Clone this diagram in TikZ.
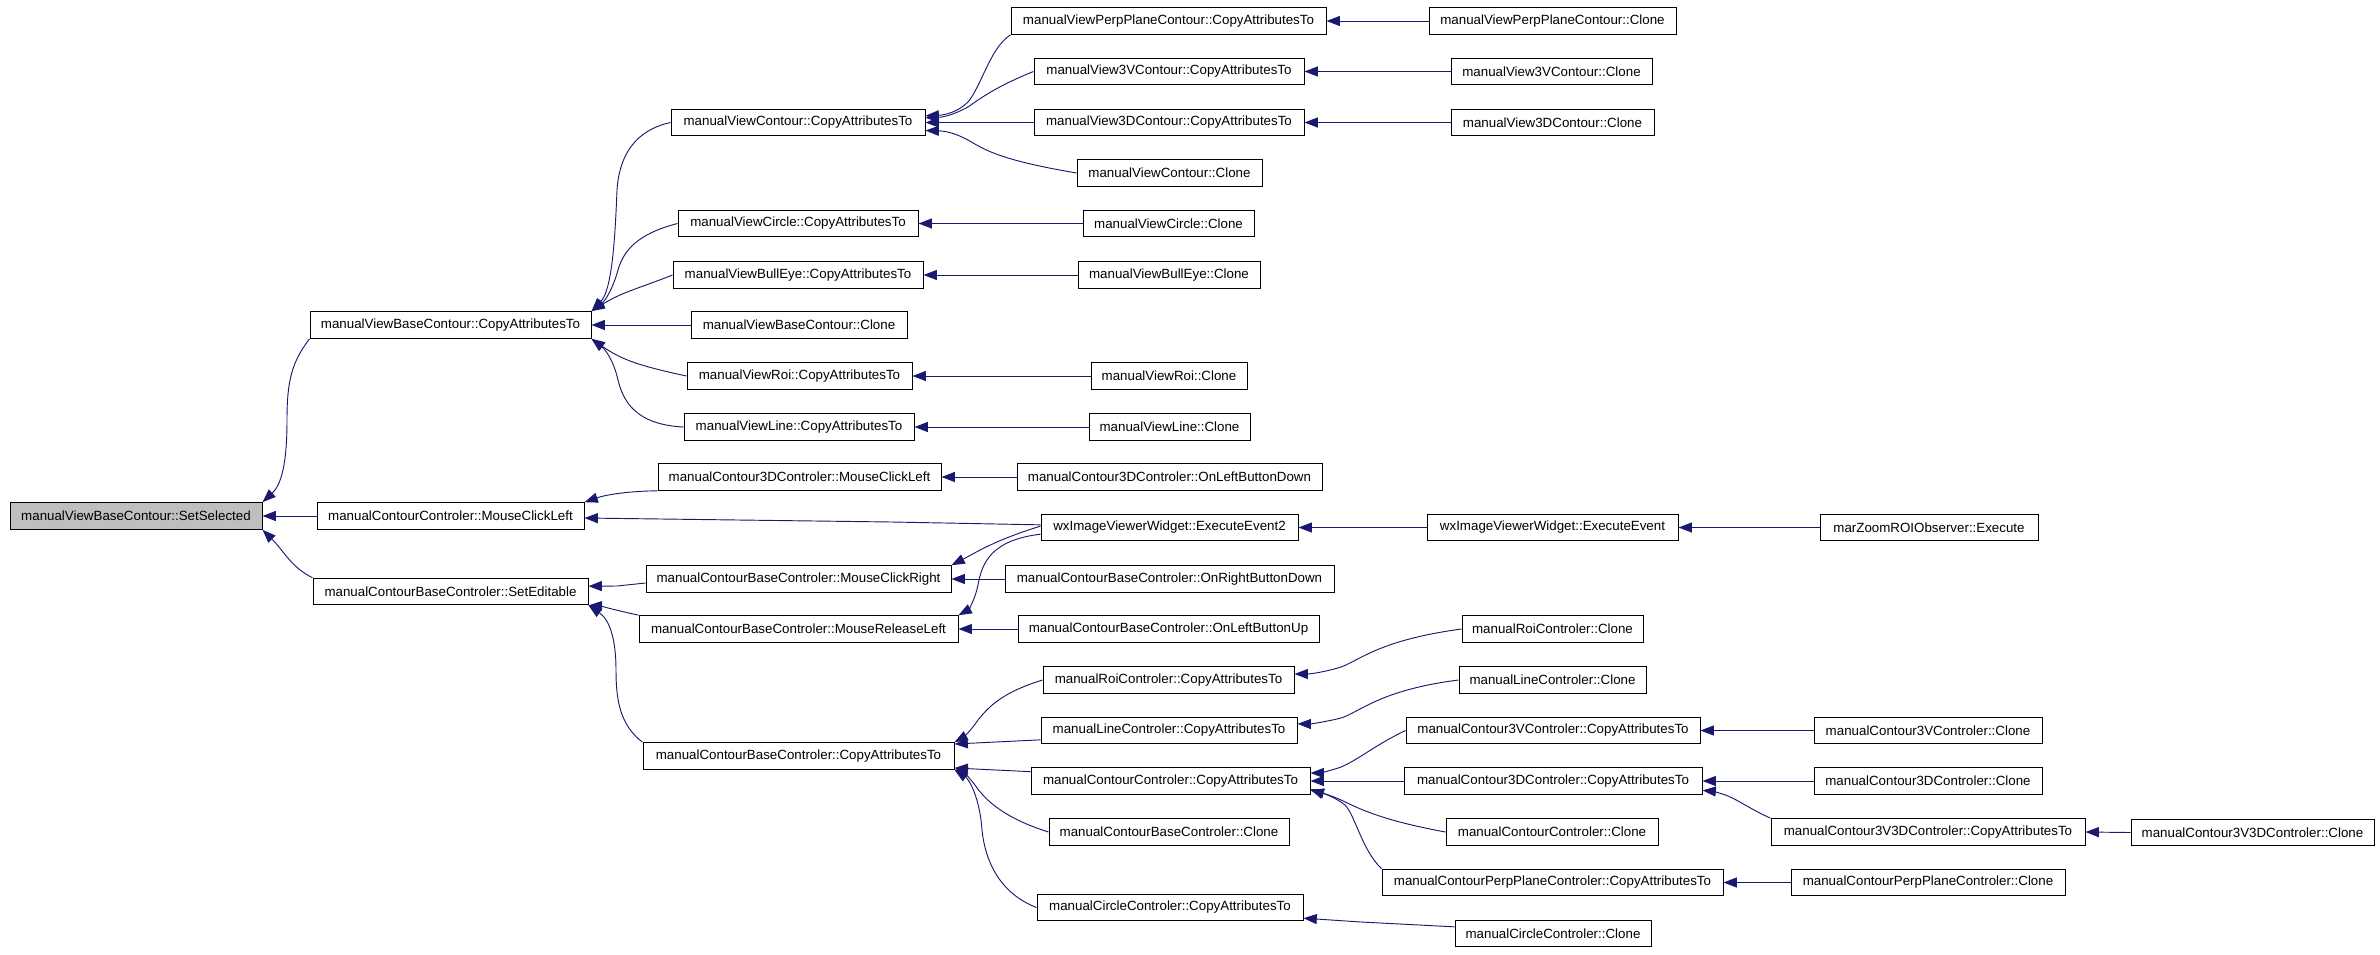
\documentclass[tikz,border=0pt]{standalone}
\usepackage{fontspec}
\setmainfont{Liberation Sans}
\usetikzlibrary{arrows.meta}
\definecolor{edgeblue}{HTML}{191970}
\definecolor{selgray}{HTML}{BFBFBF}
\tikzset{
  fn/.style={draw=black, fill=white, line width=0.75pt, minimum height=20pt, inner sep=0pt, font=\fontsize{10}{12}\selectfont},
  sel/.style={fn, fill=selgray},
  cl/.style={draw=edgeblue, line width=0.7pt, -{Triangle[length=10pt,width=7.5pt]}, edgeblue}
}
\newcommand\fnode[5][fn]{\node[#1, minimum width=#4*0.75pt] (#2) at #3 {#5};}
\begin{document}
\begin{tikzpicture}[x=0.75pt,y=-0.75pt]
\useasboundingbox (0,0) rectangle (2380,954);
% column 0
\fnode[sel]{ss}{(136,516)}{252}{manualViewBaseContour::SetSelected}
% column 1
\fnode{vbcCAT}{(450.5,325)}{281}{manualViewBaseContour::CopyAttributesTo}
\fnode{ccMCL}{(450.5,516)}{267}{manualContourControler::MouseClickLeft}
\fnode{cbcSE}{(450.5,591.5)}{275}{manualContourBaseControler::SetEditable}
% column 2
\fnode{vcCAT}{(798,122.5)}{254}{manualViewContour::CopyAttributesTo}
\fnode{vciCAT}{(798,223.5)}{240}{manualViewCircle::CopyAttributesTo}
\fnode{vbeCAT}{(798,275)}{250}{manualViewBullEye::CopyAttributesTo}
\fnode{vbcClone}{(799,325)}{216}{manualViewBaseContour::Clone}
\fnode{vrCAT}{(799.5,376)}{225}{manualViewRoi::CopyAttributesTo}
\fnode{vlCAT}{(799,427)}{230}{manualViewLine::CopyAttributesTo}
\fnode{c3dMCL}{(799.5,477)}{283}{manualContour3DControler::MouseClickLeft}
\fnode{cbcMCR}{(798.5,579)}{305}{manualContourBaseControler::MouseClickRight}
\fnode{cbcMRL}{(798.5,629)}{319}{manualContourBaseControler::MouseReleaseLeft}
\fnode{cbcCAT}{(798.5,756)}{311}{manualContourBaseControler::CopyAttributesTo}
% column 3
\fnode{vppCAT}{(1168.5,21)}{315}{manualViewPerpPlaneContour::CopyAttributesTo}
\fnode{v3vCAT}{(1169,71.5)}{270}{manualView3VContour::CopyAttributesTo}
\fnode{v3dCAT}{(1169,122.5)}{270}{manualView3DContour::CopyAttributesTo}
\fnode{vcClone}{(1169.5,173)}{185}{manualViewContour::Clone}
\fnode{vciClone}{(1168.5,223.5)}{171}{manualViewCircle::Clone}
\fnode{vbeClone}{(1169,275)}{182}{manualViewBullEye::Clone}
\fnode{vrClone}{(1169,376)}{156}{manualViewRoi::Clone}
\fnode{vlClone}{(1169.5,427)}{161}{manualViewLine::Clone}
\fnode{c3dOLBD}{(1169.5,477)}{305}{manualContour3DControler::OnLeftButtonDown}
\fnode{wxEEtwo}{(1169.5,527.5)}{257}{wxImageViewerWidget::ExecuteEvent2}
\fnode{cbcORBD}{(1169.5,579)}{329}{manualContourBaseControler::OnRightButtonDown}
\fnode{cbcOLBU}{(1168.5,629)}{301}{manualContourBaseControler::OnLeftButtonUp}
\fnode{rcCAT}{(1168.5,680)}{251}{manualRoiControler::CopyAttributesTo}
\fnode{lcCAT}{(1169,730.5)}{256}{manualLineControler::CopyAttributesTo}
\fnode{ccCAT}{(1170.5,781)}{279}{manualContourControler::CopyAttributesTo}
\fnode{cbcClone}{(1169,832)}{240}{manualContourBaseControler::Clone}
\fnode{cicCAT}{(1170,907.5)}{266}{manualCircleControler::CopyAttributesTo}
% column 4
\fnode{vppClone}{(1552.5,21)}{247}{manualViewPerpPlaneContour::Clone}
\fnode{v3vClone}{(1551.5,71.5)}{201}{manualView3VContour::Clone}
\fnode{v3dClone}{(1552.5,122.5)}{203}{manualView3DContour::Clone}
\fnode{wxEE}{(1552.5,527.5)}{251}{wxImageViewerWidget::ExecuteEvent}
\fnode{rcClone}{(1552.5,629)}{181}{manualRoiControler::Clone}
\fnode{lcClone}{(1552.5,680)}{187}{manualLineControler::Clone}
\fnode{cthvCAT}{(1553,730.5)}{294}{manualContour3VControler::CopyAttributesTo}
\fnode{cthdCAT}{(1553,781)}{298}{manualContour3DControler::CopyAttributesTo}
\fnode{ccClone}{(1552,832)}{212}{manualContourControler::Clone}
\fnode{cppCAT}{(1552.5,882.5)}{341}{manualContourPerpPlaneControler::CopyAttributesTo}
\fnode{cicClone}{(1553,933.5)}{196}{manualCircleControler::Clone}
% column 5
\fnode{marZ}{(1929,527.5)}{218}{marZoomROIObserver::Execute}
\fnode{cthvClone}{(1928,730.5)}{228}{manualContour3VControler::Clone}
\fnode{cthdClone}{(1928,781)}{228}{manualContour3DControler::Clone}
\fnode{cvdCAT}{(1928,832)}{314}{manualContour3V3DControler::CopyAttributesTo}
\fnode{cppClone}{(1928,882.5)}{274}{manualContourPerpPlaneControler::Clone}
% column 6
\fnode{cvdClone}{(2252.5,832.5)}{243}{manualContour3V3DControler::Clone}

% ---- edges into SetSelected
\draw[cl] (vbcCAT.south west) .. controls (292,362) and (287,380) .. (287,420) .. controls (287,465) and (281,485) .. (ss.north east);
\draw[cl] (ccMCL.west) -- (ss.east);
\draw[cl] (cbcSE.north west) .. controls (292,568) and (283,550) .. (ss.south east);
% ---- edges into manualViewBaseContour::CopyAttributesTo
\draw[cl] (vcCAT.west) .. controls (645,128) and (620,145) .. (617,190) .. controls (615,240) and (612,290) .. (vbcCAT.north east);
\draw[cl] (vciCAT.west) .. controls (645,232) and (625,245) .. (618,270) .. controls (613,288) and (606,300) .. (vbcCAT.north east);
\draw[cl] (vbeCAT.west) .. controls (640,288) and (622,292) .. (vbcCAT.north east);
\draw[cl] (vbcClone.west) -- (vbcCAT.east);
\draw[cl] (vrCAT.west) .. controls (640,366) and (622,360) .. (vbcCAT.south east);
\draw[cl] (vlCAT.west) .. controls (645,425) and (625,410) .. (618,380) .. controls (614,362) and (606,350) .. (vbcCAT.south east);
% ---- edges into manualViewContour::CopyAttributesTo
\draw[cl] (vppCAT.south west) .. controls (990,48) and (982,85) .. (968,102) .. controls (958,112) and (945,115) .. ([yshift=5pt]vcCAT.east);
\draw[cl] (v3vCAT.west) .. controls (1000,85) and (985,95) .. (968,107) .. controls (955,114) and (945,117) .. ([yshift=3.5pt]vcCAT.east);
\draw[cl] (v3dCAT.west) -- (vcCAT.east);
\draw[cl] (vcClone.west) .. controls (1000,160) and (985,150) .. (968,140) .. controls (955,133) and (945,131) .. ([yshift=-6pt]vcCAT.east);
% ---- clones of view classes
\draw[cl] (vppClone.west) -- (vppCAT.east);
\draw[cl] (v3vClone.west) -- (v3vCAT.east);
\draw[cl] (v3dClone.west) -- (v3dCAT.east);
\draw[cl] (vciClone.west) -- (vciCAT.east);
\draw[cl] (vbeClone.west) -- (vbeCAT.east);
\draw[cl] (vrClone.west) -- (vrCAT.east);
\draw[cl] (vlClone.west) -- (vlCAT.east);
% ---- MouseClickLeft
\draw[cl] (c3dMCL.south west) .. controls (628,491) and (605,495) .. (ccMCL.north east);
\draw[cl] ([yshift=2pt]wxEEtwo.west) -- (892,522) -- ([yshift=-1.5pt]ccMCL.east);
\draw[cl] (c3dOLBD.west) -- (c3dMCL.east);
% ---- ExecuteEvent2
\draw[cl] ([yshift=1pt]wxEEtwo.west) .. controls (995,540) and (975,553) .. (cbcMCR.north east);
\draw[cl] ([yshift=-5pt]wxEEtwo.west) .. controls (992,540) and (982,562) .. (978,585) .. controls (975,600) and (968,610) .. (cbcMRL.north east);
\draw[cl] (wxEE.west) -- (wxEEtwo.east);
\draw[cl] (marZ.west) -- (wxEE.east);
% ---- SetEditable
\draw[cl] ([yshift=-3pt]cbcMCR.west) -- (617,586) -- ([yshift=4pt]cbcSE.east);
\draw[cl] (cbcMRL.north west) .. controls (615,610) and (600,606) .. (cbcSE.south east);
\draw[cl] (cbcCAT.north west) .. controls (620,725) and (616,700) .. (616,670) .. controls (616,640) and (610,620) .. (cbcSE.south east);
\draw[cl] (cbcORBD.west) -- (cbcMCR.east);
\draw[cl] (cbcOLBU.west) -- (cbcMRL.east);
% ---- manualContourBaseControler::CopyAttributesTo
\draw[cl] (rcCAT.west) .. controls (1004,692) and (990,705) .. (978,720) .. controls (970,732) and (962,738) .. (cbcCAT.north east);
\draw[cl] ([yshift=-7pt]lcCAT.west) -- ([yshift=9pt]cbcCAT.east);
\draw[cl] ([yshift=7pt]ccCAT.west) -- ([yshift=-9pt]cbcCAT.east);
\draw[cl] (cbcClone.west) .. controls (1004,818) and (985,800) .. (975,785) .. controls (968,776) and (962,771) .. (cbcCAT.south east);
\draw[cl] (cicCAT.west) .. controls (999,893) and (985,860) .. (982,830) .. controls (980,800) and (970,780) .. (cbcCAT.south east);
% ---- controller clones
\draw[cl] (rcClone.west) .. controls (1380,640) and (1360,660) .. (1341,667) .. controls (1325,672) and (1310,674) .. ([yshift=4.5pt]rcCAT.east);
\draw[cl] (lcClone.west) .. controls (1380,690) and (1360,712) .. (1341,718) .. controls (1325,722) and (1310,724) .. ([yshift=5pt]lcCAT.east);
\draw[cl] (cthvCAT.west) .. controls (1375,745) and (1358,760) .. (1341,767) .. controls (1330,771) and (1318,773) .. ([yshift=6pt]ccCAT.east);
\draw[cl] (cthdCAT.west) -- (ccCAT.east);
\draw[cl] (ccClone.west) .. controls (1380,820) and (1358,808) .. (1341,800) .. controls (1328,794) and (1318,792) .. ([yshift=-6pt]ccCAT.east);
\draw[cl] (cppCAT.north west) .. controls (1362,850) and (1355,815) .. (1345,805) .. controls (1335,797) and (1322,793) .. ([yshift=-7pt]ccCAT.east);
\draw[cl] (cthvClone.west) -- (cthvCAT.east);
\draw[cl] (cthdClone.west) -- (cthdCAT.east);
\draw[cl] (cvdCAT.north west) .. controls (1752,810) and (1738,800) .. (1728,796) .. controls (1718,792) and (1710,791) .. ([yshift=-7pt]cthdCAT.east);
\draw[cl] (cvdClone.west) -- (cvdCAT.east);
\draw[cl] (cppClone.west) -- (cppCAT.east);
\draw[cl] ([yshift=5pt]cicClone.west) -- (1361,922) -- ([yshift=-8pt]cicCAT.east);
\end{tikzpicture}
\end{document}
